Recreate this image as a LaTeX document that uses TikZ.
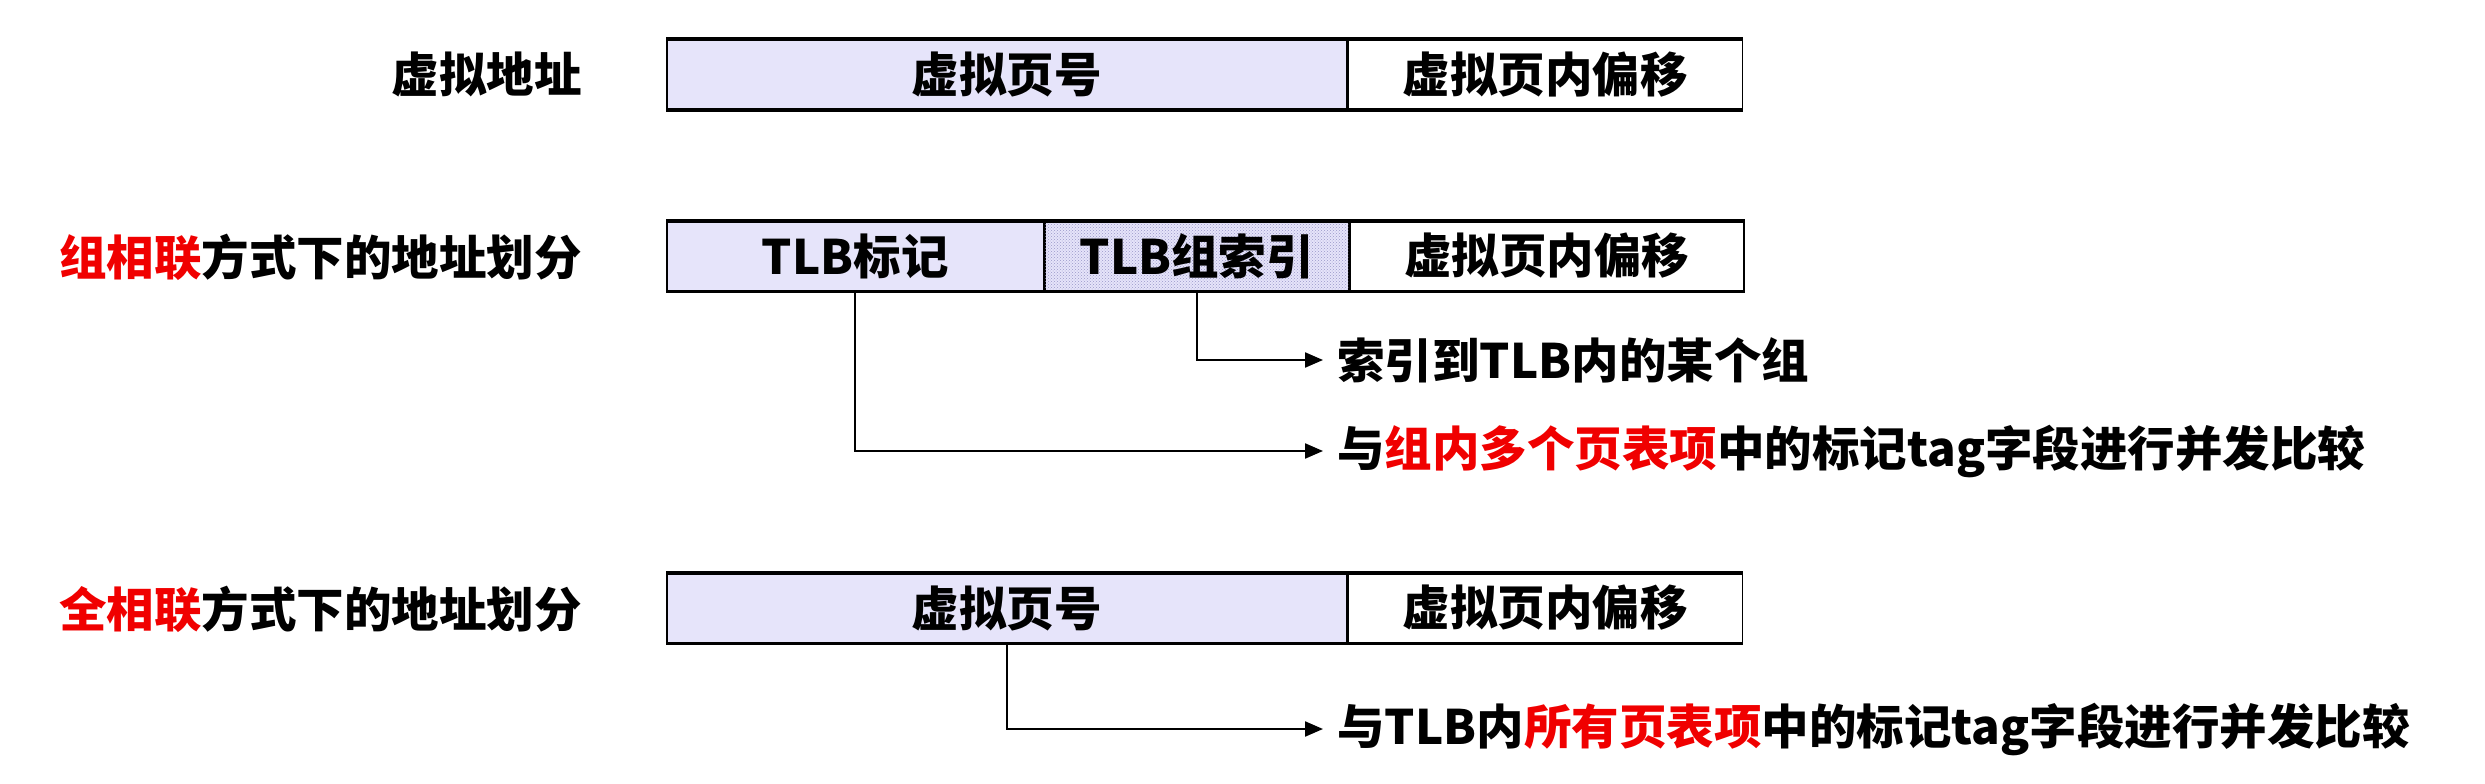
\documentclass[tikz,border=0pt]{standalone}
\usepackage{fontspec}
\setmainfont{Noto Sans CJK SC}
\usetikzlibrary{arrows.meta,patterns,calc}
\definecolor{lav}{HTML}{E6E4FA}
\definecolor{dotc}{HTML}{9A98C8}
\definecolor{hl}{HTML}{F00000}
\begin{document}
\begin{tikzpicture}[x=1pt,y=-1pt,
  every node/.style={font=\fontsize{47.5}{52}\selectfont\bfseries},
  cell/.style={draw,line width=1.5pt,minimum height=69pt,inner sep=0pt,anchor=west},
  lbl/.style={anchor=east,inner sep=0pt},
  note/.style={anchor=west,inner xsep=14pt,inner ysep=0pt},
  edge/.style={line width=3.5pt},
  arr/.style={line width=2.2pt,-{Triangle[length=18pt,width=15pt]}}]
\useasboundingbox (0,0) rectangle (2485,784);
% row 1
\node[lbl] (l1) at (582,74.5) {虚拟地址};
\node[cell,fill=lav,minimum width=680pt] (a1) at (666,74.5) {虚拟页号};
\node[cell,fill=white,minimum width=394pt] (b1) at (a1.east) {虚拟页内偏移};
\draw[edge] (a1.north west) -- (b1.north east);
\draw[edge] (a1.south west) -- (b1.south east);
% row 2
\node[lbl] (l2) at (582,257) {\textcolor{hl}{组相联}方式下的地址划分};
\node[cell,fill=lav,minimum width=377pt] (a2) at (666,256) {TLB标记};
\node[cell,fill=lav,postaction={pattern=crosshatch dots,pattern color=dotc},minimum width=303pt] (i2) at (a2.east) {};
\node (i2t) at (i2.center) {TLB组索引};
\node[cell,fill=white,minimum width=394pt] (b2) at (i2.east) {虚拟页内偏移};
\draw[edge] (a2.north west) -- (b2.north east);
\draw[edge] (a2.south west) -- (b2.south east);
\node[note] (n1) at (1323,360) {索引到TLB内的某个组};
\node[note] (n2) at (1323,451) {与\textcolor{hl}{组内多个页表项}中的标记tag字段进行并发比较};
\draw[arr] (i2.south) |- (n1.west);
\draw[arr] (a2.south) |- (n2.west);
% row 3
\node[lbl] (l3) at (582,609) {\textcolor{hl}{全相联}方式下的地址划分};
\node[cell,fill=lav,minimum width=680pt] (a3) at (666,608) {虚拟页号};
\node[cell,fill=white,minimum width=394pt] (b3) at (a3.east) {虚拟页内偏移};
\draw[edge] (a3.north west) -- (b3.north east);
\draw[edge] (a3.south west) -- (b3.south east);
\node[note] (n3) at (1323,729) {与TLB内\textcolor{hl}{所有页表项}中的标记tag字段进行并发比较};
\draw[arr] (a3.south) |- (n3.west);
\end{tikzpicture}
\end{document}
